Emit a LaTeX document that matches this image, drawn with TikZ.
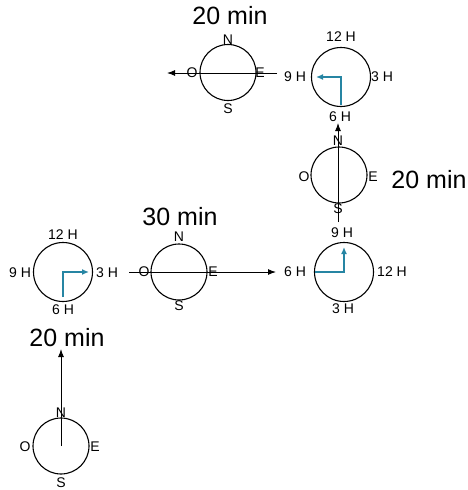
\documentclass[tikz,border=0pt]{standalone}
\usepackage{fontspec}
\setmainfont{Liberation Sans}
\usetikzlibrary{arrows.meta}
\definecolor{handteal}{RGB}{38,133,163}
\tikzset{
  compass/.style={circle,draw=black,line width=1.1pt,minimum size=56pt,inner sep=0pt},
  clock/.style={circle,draw=black,line width=1.1pt,minimum size=59pt,inner sep=0pt},
  lbl/.style={inner sep=0pt,font=\fontsize{14}{17}\selectfont},
  heading/.style={inner sep=0pt,font=\fontsize{25}{30}\selectfont},
  route/.style={line width=1pt,-{Latex[length=8pt,width=6pt]}},
  hand/.style={color=handteal,line width=1.3pt,-{Latex[length=7pt,width=6pt]}}
}
\begin{document}
\begin{tikzpicture}[x=1pt,y=-1pt]
\useasboundingbox (0,0) rectangle (467,490);
% first leg: compass at the bottom
\node[compass] (cmpA) at (61,446) {};
\node[lbl] (cmpA-n) at (61,413) {N};
\node[lbl] (cmpA-o) at (25,447) {O};
\node[lbl] (cmpA-e) at (95,447) {E};
\node[lbl] (cmpA-s) at (61,483) {S};
\coordinate (endA) at (61,349);
\draw[route] (cmpA.center) -- (endA);
\node[heading] (timeA) at (67,338) {20 min};
% clock after the first leg
\node[clock] (clkA) at (63,272) {};
\node[lbl] (clkA-12) at (63,235) {12 H};
\node[lbl] (clkA-9) at (20,273) {9 H};
\node[lbl] (clkA-3) at (107,273) {3 H};
\node[lbl] (clkA-6) at (63,310) {6 H};
\draw[hand] ([yshift=-25pt]clkA.center) -- (clkA.center) -- ++(26,0);
% second leg
\node[compass] (cmpB) at (179,272) {};
\node[lbl] (cmpB-n) at (179,237) {N};
\node[lbl] (cmpB-o) at (144,272) {O};
\node[lbl] (cmpB-e) at (213,272) {E};
\node[lbl] (cmpB-s) at (179,306) {S};
\coordinate (startB) at (129,272);
\coordinate (endB) at (276,272);
\draw[route] (startB) -- (endB);
\node[heading] (timeB) at (180,217) {30 min};
% clock after the second leg
\node[clock] (clkB) at (344,272) {};
\node[lbl] (clkB-9) at (342,233) {9 H};
\node[lbl] (clkB-6) at (295,272) {6 H};
\node[lbl] (clkB-12) at (392,272) {12 H};
\node[lbl] (clkB-3) at (343,309) {3 H};
\draw[hand] ([xshift=-29pt]clkB.center) -- (clkB.center) -- ++(0,-25);
% third leg
\node[compass] (cmpC) at (339,175) {};
\node[lbl] (cmpC-n) at (338,141) {N};
\node[lbl] (cmpC-o) at (304,177) {O};
\node[lbl] (cmpC-e) at (373,177) {E};
\node[lbl] (cmpC-s) at (338,209) {S};
\coordinate (startC) at (338,222);
\coordinate (endC) at (338,123);
\draw[route] (startC) -- (endC);
\node[heading] (timeC) at (429,180) {20 min};
% clock after the third leg
\node[clock] (clkC) at (341,77) {};
\node[lbl] (clkC-12) at (341,37) {12 H};
\node[lbl] (clkC-9) at (295,77) {9 H};
\node[lbl] (clkC-3) at (382,77) {3 H};
\node[lbl] (clkC-6) at (340,117) {6 H};
\draw[hand] ([yshift=-28pt]clkC.center) -- (clkC.center) -- ++(-25,0);
% fourth leg
\node[compass] (cmpD) at (228,72.5) {};
\node[lbl] (cmpD-n) at (228,40) {N};
\node[lbl] (cmpD-o) at (192,73) {O};
\node[lbl] (cmpD-e) at (260,73) {E};
\node[lbl] (cmpD-s) at (228,109) {S};
\coordinate (startD) at (277,73);
\coordinate (endD) at (167,73);
\draw[route] (startD) -- (endD);
\node[heading] (timeD) at (230,16) {20 min};
\end{tikzpicture}
\end{document}
